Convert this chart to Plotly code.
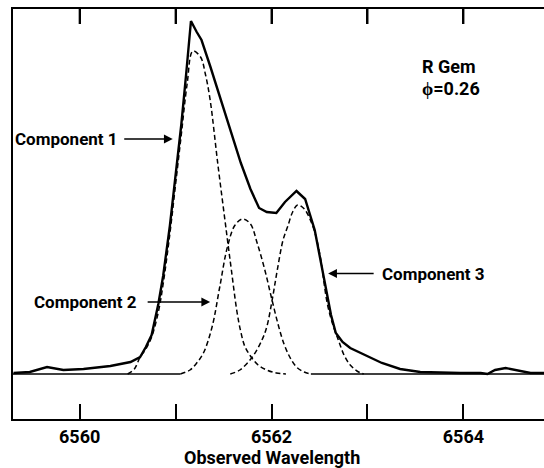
import plotly.graph_objects as go

# Observed H-alpha profile of R Gem (relative flux above continuum)
wl_total = [6559.31, 6559.48, 6559.66, 6559.83, 6560.04, 6560.32, 6560.53, 6560.63,
            6560.69, 6560.75, 6560.82, 6560.87, 6560.94, 6561.00, 6561.06, 6561.11,
            6561.16, 6561.22, 6561.27, 6561.36, 6561.46, 6561.57, 6561.68, 6561.78,
            6561.87, 6561.95, 6562.05, 6562.14, 6562.26, 6562.35, 6562.40, 6562.45,
            6562.49, 6562.53, 6562.58, 6562.62, 6562.67, 6562.74, 6562.82, 6562.98,
            6563.15, 6563.34, 6563.55, 6563.97, 6564.18, 6564.25, 6564.33, 6564.44,
            6564.56, 6564.70, 6564.84]
flux_total = [0.01, 0.02, 0.07, 0.04, 0.05, 0.08, 0.12, 0.17,
              0.27, 0.39, 0.70, 0.98, 1.48, 1.98, 2.50, 3.00,
              3.53, 3.42, 3.34, 3.08, 2.77, 2.44, 2.11, 1.85,
              1.66, 1.62, 1.61, 1.72, 1.83, 1.75, 1.59, 1.44,
              1.24, 1.04, 0.79, 0.59, 0.41, 0.32, 0.26, 0.19,
              0.11, 0.05, 0.02, 0.01, 0.01, 0.00, 0.04, 0.06,
              0.04, 0.01, 0.01]

# Fitted emission components
wl_comp1 = [6560.50, 6560.57, 6560.63, 6560.69, 6560.75, 6560.82, 6560.87, 6560.94,
            6561.00, 6561.06, 6561.12, 6561.18, 6561.26, 6561.31, 6561.36, 6561.44,
            6561.53, 6561.58, 6561.64, 6561.68, 6561.72, 6561.78, 6561.86, 6561.95,
            6562.05, 6562.15]
flux_comp1 = [0.00, 0.05, 0.17, 0.25, 0.37, 0.62, 0.90, 1.40,
              1.90, 2.40, 2.90, 3.23, 3.17, 3.00, 2.74, 2.10,
              1.42, 1.05, 0.62, 0.42, 0.28, 0.18, 0.09, 0.04,
              0.01, 0.00]

wl_comp2 = [6561.05, 6561.15, 6561.22, 6561.29, 6561.38, 6561.46, 6561.54, 6561.62,
            6561.70, 6561.78, 6561.85, 6561.93, 6562.00, 6562.07, 6562.13, 6562.19,
            6562.26, 6562.34, 6562.41]
flux_comp2 = [0.00, 0.04, 0.11, 0.21, 0.47, 0.87, 1.27, 1.49,
              1.55, 1.50, 1.31, 1.04, 0.76, 0.49, 0.30, 0.17,
              0.07, 0.02, 0.00]

wl_comp3 = [6561.57, 6561.67, 6561.80, 6561.90, 6561.95, 6562.01, 6562.06, 6562.12,
            6562.17, 6562.22, 6562.27, 6562.32, 6562.37, 6562.45, 6562.51, 6562.58,
            6562.64, 6562.70, 6562.76, 6562.82, 6562.89, 6562.96]
flux_comp3 = [0.00, 0.04, 0.17, 0.34, 0.47, 0.76, 1.04, 1.34,
              1.48, 1.62, 1.69, 1.67, 1.61, 1.42, 1.16, 0.71,
              0.49, 0.33, 0.18, 0.09, 0.03, 0.00]

# Continuum level outside the fitted region
wl_continuum = [6559.305, 6561.05, None, 6562.41, 6564.84]
flux_continuum = [0.0, 0.0, None, 0.0, 0.0]

tick_values = [6560, 6561, 6562, 6563, 6564]
tick_labels = ["6560", "", "6562", "", "6564"]
x_range = [6559.305, 6564.84]
y_range = [-0.45, 3.65]

FONT = "Roboto"
TOP, BOTTOM = 9, 49
PLOT_H = 468 - TOP - BOTTOM  # height of the plotting area in px
TICK_LEN = 15

fig = go.Figure()

fig.add_trace(go.Scatter(x=wl_continuum, y=flux_continuum, mode="lines",
                         line=dict(color="black", width=1.5), connectgaps=False,
                         hoverinfo="skip"))
for wl, fl in [(wl_comp1, flux_comp1), (wl_comp2, flux_comp2), (wl_comp3, flux_comp3)]:
    fig.add_trace(go.Scatter(x=wl, y=fl, mode="lines", line_shape="spline",
                             line=dict(color="black", width=1.5, dash="5px,3px")))
fig.add_trace(go.Scatter(x=wl_total, y=flux_total, mode="lines",
                         line=dict(color="black", width=2.4)))

# inward tick marks hanging from the top frame, one per x tick
tick_drop = (y_range[1] - y_range[0]) * TICK_LEN / PLOT_H
top_x, top_y = [], []
for v in tick_values:
    top_x += [v, v, None]
    top_y += [y_range[1], y_range[1] - tick_drop, None]
fig.add_trace(go.Scatter(x=top_x, y=top_y, mode="lines", cliponaxis=False,
                         line=dict(color="black", width=2), hoverinfo="skip"))

txt = dict(family=FONT, size=17, color="black", weight="bold")

annotations = [
    dict(x=6560.42, y=2.35, text="Component 1", xanchor="right", yanchor="middle"),
    dict(x=6560.62, y=0.72, text="Component 2", xanchor="right", yanchor="middle"),
    dict(x=6563.13, y=1.005, text="Component 3", xanchor="left", yanchor="middle"),
    dict(x=6563.55, y=3.08, text="R Gem", xanchor="left", yanchor="middle",
         font=dict(family=FONT, size=18, color="black", weight="bold")),
    dict(x=6563.55, y=2.86, text="ϕ=0.26", xanchor="left", yanchor="middle",
         font=dict(family=FONT, size=18, color="black", weight="bold")),
]
for a in annotations:
    a.setdefault("font", txt)
    a.update(xref="x", yref="y", showarrow=False)

# axis title sitting on the bottom edge of the figure
annotations.append(dict(x=6562, xref="x", y=-(BOTTOM + 1) / PLOT_H, yref="paper",
                        text="Observed Wavelength", showarrow=False,
                        xanchor="center", yanchor="bottom", borderpad=0,
                        font=dict(family=FONT, size=18, color="black", weight="bold")))

arrows = [
    dict(x=6560.97, y=2.35, ax=-50, ay=0),
    dict(x=6561.36, y=0.72, ax=-64, ay=0),
    dict(x=6562.59, y=1.005, ax=47, ay=0),
]
for a in arrows:
    a.update(xref="x", yref="y", axref="pixel", ayref="pixel", text="",
             showarrow=True, arrowhead=2, arrowsize=1.1, arrowwidth=1.6,
             arrowcolor="black", standoff=0, startstandoff=0)

fig.update_layout(
    width=544, height=468,
    margin=dict(l=13, r=0, t=TOP, b=BOTTOM),
    paper_bgcolor="white", plot_bgcolor="white",
    showlegend=False,
    annotations=annotations + arrows,
    font=dict(family=FONT, color="black"),
    xaxis=dict(
        range=x_range,
        tickvals=tick_values, ticktext=tick_labels,
        ticks="inside", ticklen=TICK_LEN, tickwidth=2, tickcolor="black",
        showline=True, linewidth=2, linecolor="black", mirror="ticks",
        showgrid=False, zeroline=False,
        tickfont=dict(family=FONT, size=18, color="black", weight="bold"),
        ticklabelstandoff=0,
    ),
    yaxis=dict(
        range=y_range,
        showline=True, linewidth=2, linecolor="black", mirror=False,
        showticklabels=False, ticks="", showgrid=False, zeroline=False,
    ),
)

fig.write_html("out.html")
